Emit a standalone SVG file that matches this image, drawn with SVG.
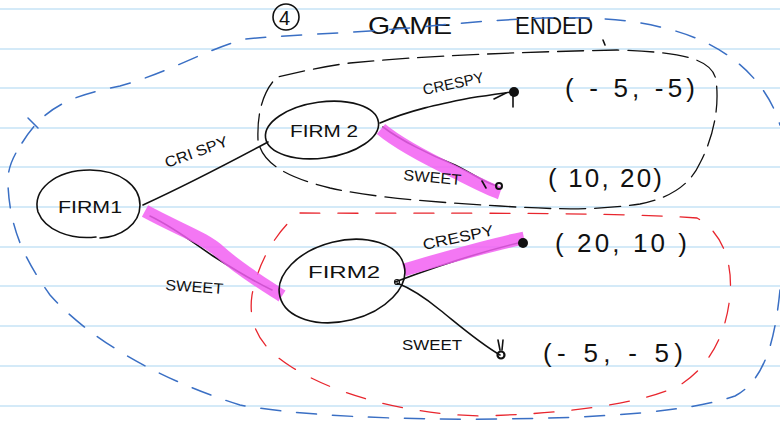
<svg xmlns="http://www.w3.org/2000/svg" width="780" height="426" viewBox="0 0 780 426">
  <defs>
    <style>
      .rule { stroke: #d4eaf8; stroke-width: 2; }
      .ink { fill: none; stroke: #111; stroke-width: 1.6; stroke-linecap: round; stroke-linejoin: round; }
      .hl { fill: none; stroke: #f25ff2; stroke-width: 13; stroke-linecap: butt; stroke-linejoin: round; opacity: 0.85; }
      .blue { fill: none; stroke: #3a6fc4; stroke-width: 1.5; stroke-dasharray: 20 16; stroke-linecap: round; }
      .red { fill: none; stroke: #e8262e; stroke-width: 1.3; stroke-dasharray: 20 18; stroke-linecap: round; }
      .blk { fill: none; stroke: #111; stroke-width: 1.3; stroke-dasharray: 26 9; stroke-linecap: round; }
      .t { font-family: "Liberation Sans", "DejaVu Sans", sans-serif; fill: #111; }
      .node { font-size: 17px; }
      .lbl { font-size: 15px; }
      .pay { font-size: 26px; }
      .dot { fill: #111; }
    </style>
  </defs>

  <rect width="780" height="426" fill="#fff"/>

  <!-- ruled paper -->
  <g id="paper">
    <line class="rule" x1="0" y1="9" x2="780" y2="9"/>
    <line class="rule" x1="0" y1="49" x2="780" y2="49"/>
    <line class="rule" x1="0" y1="88" x2="780" y2="88"/>
    <line class="rule" x1="0" y1="128" x2="780" y2="128"/>
    <line class="rule" x1="0" y1="167" x2="780" y2="167"/>
    <line class="rule" x1="0" y1="207" x2="780" y2="207"/>
    <line class="rule" x1="0" y1="247" x2="780" y2="247"/>
    <line class="rule" x1="0" y1="286" x2="780" y2="286"/>
    <line class="rule" x1="0" y1="326" x2="780" y2="326"/>
    <line class="rule" x1="0" y1="366" x2="780" y2="366"/>
    <line class="rule" x1="0" y1="406" x2="780" y2="406"/>
  </g>

  <!-- heading -->
  <g id="title">
    <circle cx="286" cy="17" r="13" class="ink" stroke-width="1.5"/>
    <text class="t" x="279" y="25" font-size="20">4</text>
    <text class="t" x="368" y="34" font-size="24" textLength="84" lengthAdjust="spacingAndGlyphs">GAME</text>
    <text class="t" x="515" y="34" font-size="24" textLength="78" lengthAdjust="spacingAndGlyphs">ENDED</text>
    <path class="ink" d="M603 40 L605 45" stroke-width="1.3"/>
  </g>

  <!-- dashed subgame outlines -->
  <g id="regions">
    <path id="whole-game" class="blue" d="M22 143 C45 105 75 95 120 86 C170 72 205 50 245 39 C300 34 380 32 440 25 C520 18 600 12 660 27 C720 40 765 75 780 125 M780 290 C775 340 765 380 735 396 C690 412 600 418 500 419 C400 420 300 416 240 405 C160 380 90 340 50 295 C25 260 10 230 8 185 C7 170 12 158 22 143"/>
    <path class="blue" d="M28 118 L38 128" stroke-dasharray="none"/>
    <path id="upper-subgame" class="blk" d="M258 140 C257 115 262 92 277 77 C300 72 325 66 350 63 C420 56 520 52 617 50 C680 52 712 58 716 80 C720 110 712 140 700 163 C690 185 670 198 640 204 C600 210 560 210 500 206 C430 202 370 197 330 188 C290 178 262 165 258 140 Z"/>
    <path id="lower-subgame" class="red" d="M300 213 C380 214 600 211 697 218 C722 232 733 262 730 295 C727 330 712 365 680 385 C640 405 560 414 480 416 C400 414 330 392 290 366 C258 346 248 322 252 295 C258 262 278 228 300 213 Z"/>
  </g>

  <!-- branches -->
  <g id="connectors">
    <path class="ink" d="M143 205 C180 188 225 165 268 142"/>
    <path class="ink" d="M150 216 C175 228 195 244 213 256 C235 270 255 282 272 290"/>
    <path class="hl" d="M145 211 C180 230 205 238 220 252 C240 270 262 283 282 296"/>
    <path class="ink" d="M380 123 C410 110 440 104 470 98 C490 95 505 93 512 92"/>
    <path class="ink" d="M494 99 L506 93 M513 95 L513 107" stroke-width="1.2"/>
    <path class="ink" d="M383 127 C400 140 430 155 455 165 C475 175 485 183 497 186"/>
    <path class="hl" d="M381 129 C400 145 430 160 455 172 C475 182 488 189 500 193"/>
    <path class="ink" d="M482 181 L486 188" stroke-width="1.2"/>
    <path class="ink" d="M395 282 C440 265 480 252 522 242"/>
    <path class="hl" d="M404 270 C445 258 485 246 524 238"/>
    <path class="ink" d="M397 283 C410 288 423 296 440 310 C460 326 478 342 500 355"/>
    <path class="ink" d="M498 340 L500 350 M503 340 L502 350" stroke-width="1.1"/>
    <circle class="dot" cx="514" cy="92" r="5"/>
    <circle cx="499" cy="186" r="3" fill="none" stroke="#111" stroke-width="2"/>
    <circle class="dot" cx="523" cy="243" r="5"/>
    <circle cx="501" cy="355" r="3.5" fill="none" stroke="#111" stroke-width="2.2"/>
    <circle cx="397" cy="282" r="2.5" fill="none" stroke="#111" stroke-width="1.2"/>
  </g>

  <!-- decision nodes -->
  <g id="firm1">
    <path class="ink" d="M96 237 C70 240 45 230 38 212 C32 190 55 170 90 170 C120 170 140 186 140 205 C140 225 120 237 100 238"/>
    <text class="t node" x="58" y="213" textLength="64" lengthAdjust="spacingAndGlyphs">FIRM1</text>
  </g>
  <g id="firm2-top">
    <ellipse class="ink" cx="322" cy="130" rx="57" ry="28" transform="rotate(-8 322 130)"/>
    <text class="t node" x="290" y="137" textLength="68" lengthAdjust="spacingAndGlyphs">FIRM 2</text>
  </g>
  <g id="firm2-bottom">
    <ellipse class="ink" cx="342" cy="281" rx="64" ry="40" transform="rotate(-14 342 281)"/>
    <text class="t node" x="308" y="278" textLength="72" lengthAdjust="spacingAndGlyphs">FIRM2</text>
  </g>

  <!-- action labels -->
  <g id="labels">
    <text class="t lbl" x="167" y="168" transform="rotate(-20 167 168)" textLength="66" lengthAdjust="spacingAndGlyphs">CRI SPY</text>
    <text class="t lbl" x="165" y="290" transform="rotate(4 165 290)" textLength="58" lengthAdjust="spacingAndGlyphs">SWEET</text>
    <text class="t lbl" x="424" y="95" transform="rotate(-12 424 95)" textLength="62" lengthAdjust="spacingAndGlyphs">CRESPY</text>
    <text class="t lbl" x="403" y="180" transform="rotate(5 403 180)" textLength="58" lengthAdjust="spacingAndGlyphs">SWEET</text>
    <text class="t lbl" x="424" y="250" transform="rotate(-12 424 250)" textLength="72" lengthAdjust="spacingAndGlyphs">CRESPY</text>
    <text class="t lbl" x="402" y="350" textLength="60" lengthAdjust="spacingAndGlyphs">SWEET</text>
  </g>

  <!-- payoffs -->
  <g id="payoffs">
    <text class="t pay" x="565" y="97" textLength="130" lengthAdjust="spacing">( - 5, -5)</text>
    <text class="t pay" x="548" y="187" font-size="24" textLength="114" lengthAdjust="spacing">( 10, 20)</text>
    <text class="t pay" x="555" y="252" font-size="28" textLength="132" lengthAdjust="spacing">( 20, 10 )</text>
    <text class="t pay" x="543" y="362" font-size="30" textLength="140" lengthAdjust="spacing">(- 5, - 5)</text>
  </g>
</svg>
